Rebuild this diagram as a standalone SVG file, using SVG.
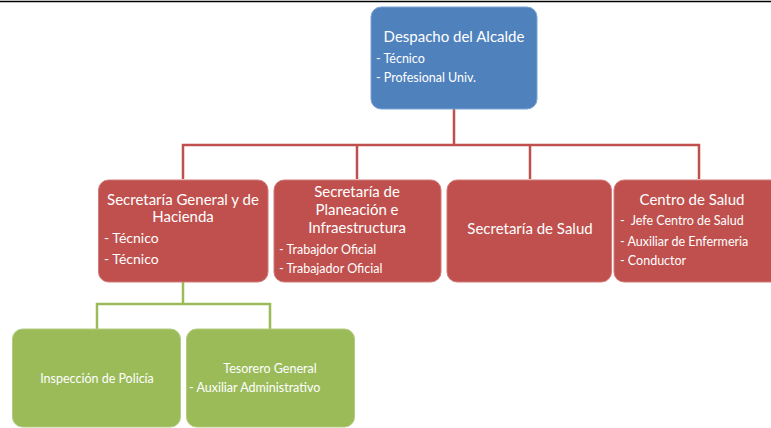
<svg xmlns="http://www.w3.org/2000/svg" width="771" height="428" viewBox="0 0 771 428">
<style>
.t{font-family:Lato,"Open Sans","Liberation Sans",sans-serif;fill:#ffffff}
.h{font-size:15px}
.s{font-size:12.5px}
.m{font-size:14px}
.blue{fill:#4F81BD;stroke:#7aa3d6;stroke-width:1}
.red{fill:#C0504D;stroke:#d27a78;stroke-width:1}
.green{fill:#9BBB59;stroke:#b3cc80;stroke-width:1}
.cr{fill:none;stroke:#C0504D;stroke-width:2.5}
.cg{fill:none;stroke:#9BBB59;stroke-width:2.5}
</style>
<rect width="771" height="428" fill="#ffffff"/>
<line x1="0" y1="1.5" x2="771" y2="1.5" stroke="#000" stroke-width="1.5"/>
<g id="connectors">
<path class="cr" d="M454 108 V145 M183 179 V145 H699 V179 M357 145 V179 M530 145 V179"/>
<path class="cg" d="M183 282 V304 M97 329 V304 H270 V329"/>
</g>
<g id="despacho">
<rect class="blue" x="371" y="7" width="166" height="102" rx="10"/>
<text class="t h" x="454" y="42" text-anchor="middle">Despacho del Alcalde</text>
<text class="t s" x="376" y="63">- Técnico</text>
<text class="t s" x="376" y="82">- Profesional Univ.</text>
</g>
<g id="sec-general">
<rect class="red" x="98.500" y="180" width="169.500" height="102" rx="10"/>
<text class="t h" x="183" y="205" text-anchor="middle">Secretaría General y de</text>
<text class="t h" x="183" y="222" text-anchor="middle">Hacienda</text>
<text class="t m" x="104" y="243">- Técnico</text>
<text class="t m" x="104" y="264">- Técnico</text>
</g>
<g id="sec-planeacion">
<rect class="red" x="274" y="180" width="167" height="102" rx="10"/>
<text class="t h" x="357" y="197" text-anchor="middle">Secretaría de</text>
<text class="t h" x="357" y="215" text-anchor="middle">Planeación e</text>
<text class="t h" x="357" y="233" text-anchor="middle">Infraestructura</text>
<text class="t s" x="279" y="254">- Trabajdor Oficial</text>
<text class="t s" x="279" y="273">- Trabajador Oficial</text>
</g>
<g id="sec-salud">
<rect class="red" x="447" y="180" width="164.500" height="102" rx="10"/>
<text class="t h" x="530" y="234" text-anchor="middle">Secretaría de Salud</text>
</g>
<g id="centro-salud">
<rect class="red" x="614" y="180" width="170" height="102" rx="10"/>
<text class="t h" x="692" y="205" text-anchor="middle">Centro de Salud</text>
<text class="t s" x="620" y="225" xml:space="preserve">-  Jefe Centro de Salud</text>
<text class="t s" x="620" y="246">- Auxiliar de Enfermeria</text>
<text class="t s" x="620" y="265">- Conductor</text>
</g>
<g id="inspeccion">
<rect class="green" x="12.500" y="329" width="168" height="98" rx="10"/>
<text class="t s" x="97" y="383" text-anchor="middle">Inspección de Policía</text>
</g>
<g id="tesorero">
<rect class="green" x="186.500" y="329" width="168" height="98" rx="10"/>
<text class="t s" x="270" y="373" text-anchor="middle">Tesorero General</text>
<text class="t s" x="189" y="392">- Auxiliar Administrativo</text>
</g>
</svg>
